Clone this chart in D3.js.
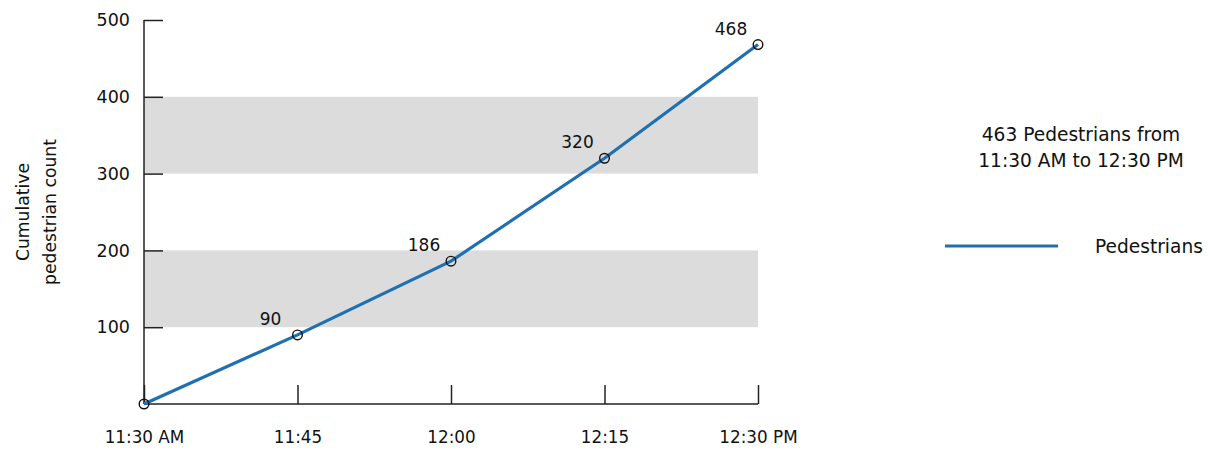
<!DOCTYPE html>
<html>
<head>
<meta charset="utf-8">
<script src="https://cdn.jsdelivr.net/npm/d3@7"></script>
<style>
  html, body { margin: 0; padding: 0; background: #fff; }
  svg { display: block; font-family: "DejaVu Sans", "Noto Sans", sans-serif; }
</style>
</head>
<body>
<svg id="chart" width="1214" height="450"></svg>
<script>
// Minutes after 11:30 AM for each count, with their axis labels
const minutes = [0, 15, 30, 45, 60];
const timeLabels = ["11:30 AM", "11:45", "12:00", "12:15", "12:30 PM"];
// Cumulative pedestrian counts at each time
const pedestrians = [0, 90, 186, 320, 468];
const yTicks = [100, 200, 300, 400, 500];
// Shaded value ranges behind the line
const bands = [[100, 200], [300, 400]];
const legendTitle = ["463 Pedestrians from", "11:30 AM to 12:30 PM"];
const seriesName = "Pedestrians";
const yTitle = ["Cumulative", "pedestrian count"];

const lineColor = "#1f70b3";
const svg = d3.select("#chart");

const x = d3.scaleLinear().domain([0, 60]).range([144, 758]);
const y = d3.scaleLinear().domain([0, 500]).range([404, 20]);

// background bands
svg.append("g").selectAll("rect").data(bands).join("rect")
  .attr("x", x(0)).attr("width", x(60) - x(0))
  .attr("y", d => y(d[1])).attr("height", d => y(d[0]) - y(d[1]))
  .attr("fill", "#dcdcdc");

// y axis with inward ticks
const yAxis = svg.append("g").attr("transform", `translate(${x(0)},0)`)
  .call(d3.axisRight(y).tickValues(yTicks).tickSize(19).tickFormat(d3.format("d")));
yAxis.attr("font-family", null).attr("font-size", null);
yAxis.select(".domain").attr("d", `M0,${y(0)}V${y(500)}`).attr("stroke", "#222").attr("stroke-width", 1.5);
yAxis.selectAll(".tick line").attr("stroke", "#222").attr("stroke-width", 1.5);
yAxis.selectAll(".tick text").attr("x", -14).attr("text-anchor", "end")
  .style("font-size", "17.5px").attr("fill", "#111");

// x axis with upward ticks
const xAxis = svg.append("g").attr("transform", `translate(0,${y(0)})`)
  .call(d3.axisTop(x).tickValues(minutes).tickSize(19).tickFormat((d, i) => timeLabels[i]));
xAxis.attr("font-family", null).attr("font-size", null);
xAxis.select(".domain").attr("d", `M${x(0)},0H${x(60)}`).attr("stroke", "#222").attr("stroke-width", 1.5);
xAxis.selectAll(".tick line").attr("stroke", "#222").attr("stroke-width", 1.5);
xAxis.selectAll(".tick text").attr("y", 33).attr("dy", "0.35em")
  .style("font-size", "16.8px").attr("fill", "#111");

// y axis title
svg.append("text")
  .attr("transform", "translate(34,212) rotate(-90)")
  .attr("text-anchor", "middle").style("font-size", "17.2px").attr("fill", "#111")
  .selectAll("tspan").data(yTitle).join("tspan")
  .attr("x", 0).attr("dy", (d, i) => i === 0 ? "-0.3em" : "1.55em").text(d => d);

// series line
const pts = minutes.map((m, i) => ({ m, v: pedestrians[i] }));
svg.append("path").datum(pts)
  .attr("fill", "none").attr("stroke", lineColor).attr("stroke-width", 3.2)
  .attr("d", d3.line().x(d => x(d.m)).y(d => y(d.v)));

svg.append("g").selectAll("circle").data(pts).join("circle")
  .attr("cx", d => x(d.m)).attr("cy", d => y(d.v)).attr("r", 4.8)
  .attr("fill", "none").attr("stroke", "#111").attr("stroke-width", 1.4);

// value labels
svg.append("g").selectAll("text").data(pts.filter(d => d.v > 0)).join("text")
  .attr("x", d => x(d.m) - 27).attr("y", d => y(d.v) - 10)
  .attr("text-anchor", "middle").style("font-size", "17px").attr("fill", "#111")
  .text(d => d.v);

// legend
svg.append("text").attr("text-anchor", "middle").style("font-size", "18.6px").attr("fill", "#111")
  .selectAll("tspan").data(legendTitle).join("tspan")
  .attr("x", 1081).attr("y", (d, i) => 141 + i * 26).text(d => d);

svg.append("line").attr("x1", 945).attr("x2", 1058).attr("y1", 246).attr("y2", 246)
  .attr("stroke", lineColor).attr("stroke-width", 3.2);
svg.append("text").attr("x", 1095).attr("y", 246).attr("dy", "0.35em")
  .style("font-size", "18.6px").attr("fill", "#111").text(seriesName);
</script>
</body>
</html>
